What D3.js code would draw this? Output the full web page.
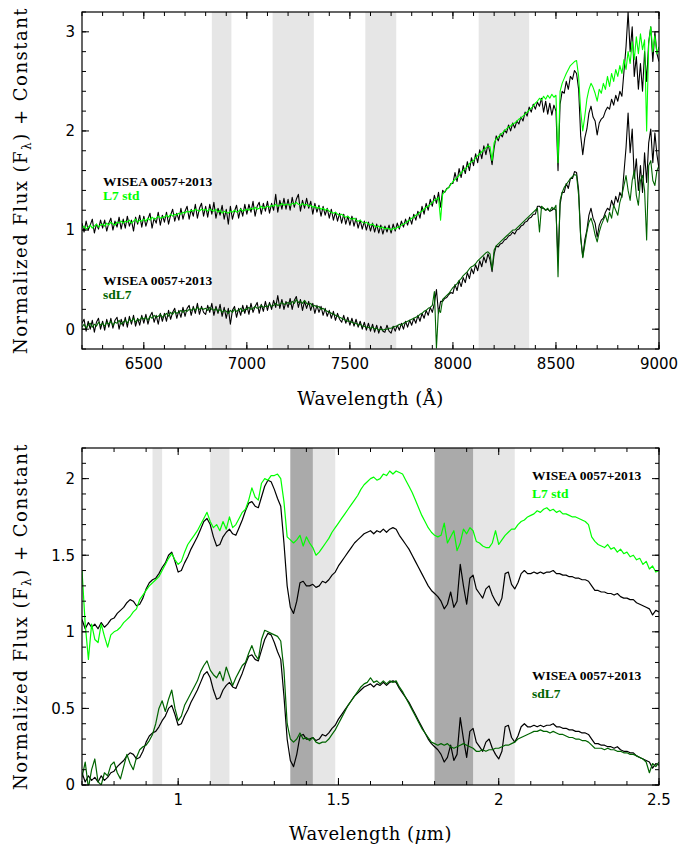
<!DOCTYPE html>
<html>
<head>
<meta charset="utf-8">
<script src="https://cdn.jsdelivr.net/npm/d3@7"></script>
<style>
  body { margin: 0; background: #fff; }
  .tick-label { font-family: 'DejaVu Sans', sans-serif; font-size: 15px; fill: #000; }
  .axis-title { font-family: 'DejaVu Serif', serif; font-size: 18px; fill: #000; }
  .legend { font-family: 'Liberation Serif', serif; font-weight: bold; font-size: 13.5px; }
</style>
</head>
<body>
<svg id="chart" width="678" height="847"></svg>
<script>
// ---- optical spectra (top), 10 A sampling from 6200 A, one row per 100 A ----
var optStart = 6200, optStep = 10;

// WISEA 0057+2013, as scaled against the L7 standard
var optWiseaL7 = [
  0.07,-0.02,0.09,0.00,0.05,0.11,-0.03,0.06,0.01,0.10,
  0.02,0.10,-0.01,0.07,0.12,0.00,0.09,0.03,0.13,0.01,
  0.11,0.02,0.14,0.04,0.10,-0.01,0.13,0.06,0.15,0.03,
  0.14,0.04,0.11,0.17,0.02,0.12,0.07,0.18,0.05,0.15,
  0.08,0.18,0.06,0.15,0.21,0.09,0.17,0.10,0.22,0.11,
  0.19,0.24,0.11,0.21,0.14,0.26,0.12,0.22,0.27,0.14,
  0.24,0.13,0.26,0.16,0.28,0.12,0.22,0.15,0.25,0.11,
  0.21,0.06,0.24,0.11,0.19,0.25,0.12,0.22,0.14,0.26,
  0.16,0.26,0.18,0.29,0.14,0.24,0.28,0.16,0.27,0.19,
  0.29,0.17,0.27,0.20,0.36,0.18,0.30,0.21,0.32,0.21,
  0.31,0.20,0.33,0.23,0.31,0.36,0.19,0.30,0.22,0.32,
  0.22,0.29,0.16,0.27,0.18,0.25,0.14,0.24,0.15,0.22,
  0.12,0.21,0.10,0.18,0.09,0.17,0.07,0.16,0.06,0.14,
  0.05,0.14,0.04,0.12,0.02,0.10,0.01,0.09,0.00,0.08,
  -0.01,0.07,-0.02,0.06,-0.03,0.05,-0.04,0.04,-0.02,0.05,
  -0.03,0.06,-0.01,0.07,0.01,0.09,0.03,0.11,0.05,0.13,
  0.06,0.16,0.10,0.19,0.12,0.24,0.16,0.27,0.20,0.31,
  0.24,0.35,0.27,0.38,0.23,0.40,0.38,0.42,0.43,0.47,
  0.47,0.58,0.49,0.62,0.53,0.65,0.57,0.69,0.60,0.73,
  0.65,0.77,0.68,0.81,0.72,0.85,0.76,0.87,0.78,0.66,
  0.83,0.95,0.90,0.97,0.94,1.01,0.98,1.06,1.00,1.08,
  1.03,1.10,1.07,1.14,1.10,1.19,1.15,1.24,1.19,1.27,
  1.22,1.29,1.25,1.33,1.19,1.30,1.17,1.28,1.16,1.26,
  1.20,0.60,1.27,1.40,1.38,1.50,1.42,1.55,1.52,1.61,
  1.58,1.42,0.95,0.76,0.93,1.02,1.18,1.25,1.14,1.10,
  0.96,1.08,1.12,1.14,1.20,1.24,1.22,1.32,1.26,1.36,
  1.30,1.40,1.35,1.60,1.85,2.20,1.80,2.05,1.55,1.75,
  1.42,1.68,1.40,1.80,1.50,1.90,2.05,1.70,2.00,1.78,
  1.70
];

// L7 standard
var optL7 = [
  0.02,0.04,0.01,0.03,0.05,0.02,0.04,0.06,0.03,0.05,
  0.06,0.04,0.07,0.05,0.08,0.06,0.05,0.08,0.07,0.09,
  0.07,0.09,0.08,0.10,0.07,0.09,0.11,0.08,0.10,0.09,
  0.11,0.09,0.12,0.10,0.13,0.11,0.12,0.14,0.12,0.13,
  0.13,0.15,0.13,0.16,0.14,0.16,0.15,0.17,0.16,0.18,
  0.17,0.19,0.18,0.20,0.19,0.21,0.20,0.19,0.21,0.20,
  0.21,0.19,0.21,0.20,0.19,0.21,0.18,0.20,0.17,0.19,
  0.18,0.17,0.19,0.18,0.20,0.18,0.19,0.21,0.19,0.20,
  0.21,0.20,0.22,0.21,0.23,0.21,0.22,0.24,0.22,0.23,
  0.24,0.23,0.25,0.24,0.26,0.24,0.25,0.27,0.25,0.26,
  0.26,0.25,0.27,0.26,0.28,0.26,0.25,0.27,0.25,0.26,
  0.24,0.25,0.23,0.24,0.22,0.23,0.21,0.22,0.20,0.21,
  0.19,0.18,0.17,0.18,0.16,0.15,0.16,0.14,0.13,0.14,
  0.12,0.11,0.12,0.10,0.09,0.10,0.08,0.07,0.08,0.06,
  0.05,0.06,0.04,0.03,0.04,0.02,0.03,0.01,0.02,0.01,
  0.00,0.02,0.01,0.03,0.03,0.05,0.06,0.07,0.09,0.10,
  0.12,0.13,0.15,0.16,0.18,0.19,0.21,0.23,0.24,0.26,
  0.28,0.30,0.31,0.33,0.10,0.36,0.39,0.41,0.43,0.46,
  0.49,0.51,0.53,0.55,0.58,0.60,0.62,0.64,0.67,0.69,
  0.70,0.73,0.75,0.77,0.79,0.81,0.83,0.85,0.84,0.70,
  0.88,0.92,0.94,0.96,0.98,1.00,1.02,1.04,1.05,1.07,
  1.08,1.10,1.12,1.13,1.15,1.17,1.19,1.21,1.23,1.25,
  1.28,1.30,1.33,1.31,1.35,1.32,1.36,1.33,1.37,1.34,
  1.36,0.68,1.40,1.48,1.53,1.58,1.62,1.66,1.68,1.70,
  1.71,1.55,1.20,1.00,1.15,1.32,1.42,1.48,1.44,1.38,
  1.30,1.42,1.38,1.48,1.42,1.55,1.45,1.58,1.50,1.62,
  1.55,1.66,1.58,1.72,1.62,1.80,1.68,1.90,1.72,1.95,
  1.78,1.98,1.82,1.92,1.00,1.88,2.05,1.80,1.96,1.78,
  1.85
];

// WISEA 0057+2013, as scaled against the sdL7
var optWiseaSd = [
  0.06,0.10,-0.02,0.08,0.00,0.09,-0.03,0.07,0.11,0.00,
  0.08,-0.01,0.10,0.02,0.11,0.01,0.09,0.12,0.00,0.10,
  0.03,0.12,0.02,0.13,0.05,0.14,0.03,0.11,0.04,0.14,
  0.06,0.15,0.05,0.13,0.17,0.07,0.14,0.05,0.16,0.08,
  0.16,0.08,0.19,0.10,0.17,0.21,0.11,0.19,0.12,0.22,
  0.13,0.21,0.24,0.14,0.23,0.16,0.26,0.15,0.23,0.17,
  0.15,0.24,0.17,0.26,0.14,0.23,0.16,0.25,0.13,0.22,
  0.11,0.21,0.05,0.19,0.23,0.12,0.21,0.14,0.24,0.16,
  0.24,0.15,0.26,0.17,0.23,0.27,0.16,0.25,0.18,0.28,
  0.19,0.27,0.20,0.29,0.22,0.34,0.21,0.30,0.20,0.28,
  0.22,0.31,0.20,0.29,0.33,0.22,0.30,0.19,0.28,0.21,
  0.28,0.19,0.26,0.16,0.24,0.17,0.23,0.14,0.21,0.13,
  0.19,0.11,0.18,0.09,0.16,0.10,0.07,0.14,0.06,0.12,
  0.04,0.11,0.03,0.10,0.02,0.08,0.00,0.07,-0.01,0.06,
  -0.02,0.05,-0.03,0.04,-0.04,0.03,-0.02,-0.03,0.04,-0.02,
  -0.04,0.03,-0.02,0.04,-0.01,0.06,0.00,0.08,0.02,0.09,
  0.04,0.11,0.06,0.14,0.08,0.16,0.11,0.19,0.14,0.22,
  0.17,0.26,0.40,0.16,0.28,0.28,0.31,0.32,0.35,0.37,
  0.36,0.45,0.39,0.49,0.43,0.52,0.47,0.57,0.51,0.61,
  0.56,0.65,0.59,0.69,0.63,0.73,0.67,0.76,0.70,0.58,
  0.76,0.84,0.83,0.86,0.87,0.90,0.91,0.94,0.95,0.98,
  0.96,1.00,1.01,1.04,1.05,1.08,1.09,1.12,1.13,1.16,
  1.16,1.24,1.24,1.22,1.22,1.20,1.21,1.19,1.20,1.22,
  1.20,0.70,1.26,1.38,1.38,1.47,1.42,1.52,1.52,1.59,
  1.58,1.40,0.93,0.73,0.90,1.00,1.15,1.22,1.12,1.07,
  0.93,1.05,1.10,1.12,1.18,1.22,1.20,1.30,1.24,1.34,
  1.28,1.38,1.33,1.58,1.83,2.18,1.78,2.02,1.52,1.72,
  1.40,1.65,1.38,1.78,1.48,1.88,2.02,1.68,1.98,1.76,
  1.62
];

// sdL7 standard
var optSd = [
  0.02,0.05,0.01,0.04,0.06,0.02,0.05,0.03,0.07,0.04,
  0.06,0.03,0.07,0.05,0.08,0.04,0.07,0.06,0.09,0.05,
  0.07,0.09,0.06,0.10,0.08,0.11,0.07,0.10,0.09,0.12,
  0.10,0.12,0.09,0.13,0.11,0.14,0.12,0.13,0.15,0.12,
  0.14,0.16,0.13,0.17,0.15,0.18,0.16,0.17,0.19,0.17,
  0.19,0.18,0.20,0.19,0.21,0.19,0.22,0.20,0.21,0.20,
  0.21,0.19,0.22,0.20,0.19,0.21,0.18,0.20,0.17,0.19,
  0.18,0.16,0.19,0.17,0.20,0.18,0.19,0.21,0.18,0.20,
  0.20,0.22,0.20,0.21,0.23,0.21,0.22,0.24,0.22,0.23,
  0.23,0.25,0.23,0.24,0.26,0.24,0.25,0.27,0.25,0.26,
  0.27,0.25,0.28,0.26,0.30,0.27,0.28,0.26,0.29,0.26,
  0.25,0.26,0.23,0.24,0.22,0.23,0.20,0.21,0.19,0.18,
  0.17,0.16,0.15,0.14,0.13,0.12,0.11,0.10,0.09,0.08,
  0.08,0.07,0.06,0.06,0.04,0.05,0.03,0.03,0.02,0.02,
  0.01,0.02,0.00,0.01,-0.01,0.00,-0.01,0.00,0.00,0.01,
  0.01,0.02,0.03,0.03,0.05,0.04,0.06,0.07,0.08,0.09,
  0.10,0.11,0.12,0.13,0.15,0.16,0.18,0.19,0.21,0.22,
  0.24,0.38,-0.19,0.20,0.17,0.30,0.32,0.34,0.36,0.39,
  0.42,0.44,0.46,0.49,0.51,0.54,0.56,0.58,0.61,0.63,
  0.64,0.66,0.69,0.71,0.73,0.75,0.77,0.78,0.76,0.60,
  0.80,0.84,0.86,0.88,0.90,0.92,0.94,0.96,0.98,1.00,
  1.00,1.02,1.04,1.06,1.08,1.10,1.12,1.14,1.16,1.18,
  1.20,1.22,0.98,1.24,1.22,1.20,1.22,1.19,1.23,1.21,
  1.25,0.53,1.30,1.38,1.43,1.46,1.49,1.52,1.54,1.56,
  1.55,1.35,0.92,0.72,0.85,0.98,1.08,1.12,1.05,0.95,
  0.88,0.98,1.05,1.10,1.15,1.08,1.18,1.12,1.25,1.20,
  1.15,1.28,1.35,1.45,1.55,1.40,1.30,1.50,1.60,1.35,
  1.25,1.50,1.55,1.40,0.90,1.65,1.70,1.50,1.45,1.60,
  1.65
];

// ---- near-infrared spectra (bottom), 0.01 um sampling from 0.70 um ----
var nirStart = 0.70, nirStep = 0.01;

var nirWisea = [
  0.08,0.02,0.06,0.03,0.05,0.02,0.06,0.03,0.05,0.08,
  0.09,0.12,0.14,0.16,0.19,0.21,0.20,0.17,0.18,0.22,
  0.28,0.32,0.34,0.35,0.38,0.42,0.45,0.50,0.52,0.46,
  0.39,0.40,0.45,0.49,0.54,0.58,0.62,0.67,0.72,0.74,
  0.70,0.62,0.56,0.57,0.62,0.65,0.67,0.64,0.63,0.68,
  0.73,0.79,0.84,0.85,0.82,0.81,0.88,0.95,0.99,0.98,
  0.93,0.87,0.82,0.58,0.30,0.16,0.12,0.20,0.32,0.33,
  0.30,0.30,0.31,0.29,0.30,0.33,0.32,0.34,0.37,0.39,
  0.43,0.46,0.49,0.52,0.55,0.58,0.60,0.62,0.64,0.65,
  0.66,0.64,0.66,0.65,0.67,0.65,0.67,0.68,0.67,0.63,
  0.60,0.57,0.54,0.50,0.46,0.42,0.38,0.34,0.30,0.27,
  0.25,0.23,0.20,0.15,0.18,0.26,0.16,0.20,0.44,0.30,
  0.18,0.35,0.37,0.28,0.25,0.22,0.28,0.30,0.24,0.20,
  0.17,0.22,0.38,0.39,0.31,0.28,0.32,0.38,0.40,0.38,
  0.38,0.39,0.38,0.39,0.38,0.39,0.39,0.40,0.38,0.38,
  0.37,0.37,0.36,0.36,0.35,0.35,0.34,0.34,0.33,0.30,
  0.27,0.27,0.26,0.26,0.25,0.25,0.24,0.25,0.23,0.22,
  0.22,0.21,0.21,0.19,0.18,0.17,0.16,0.15,0.11,0.14,
  0.13
];

var nirL7 = [
  0.40,0.05,-0.18,0.05,-0.05,-0.07,0.05,-0.03,-0.10,-0.02,
  0.00,0.01,0.03,0.06,0.08,0.10,0.13,0.15,0.21,0.24,
  0.27,0.30,0.32,0.34,0.36,0.40,0.44,0.48,0.51,0.47,
  0.44,0.46,0.52,0.57,0.60,0.63,0.66,0.70,0.74,0.78,
  0.72,0.68,0.70,0.66,0.72,0.67,0.75,0.68,0.70,0.74,
  0.78,0.80,0.86,0.94,0.88,0.86,0.97,1.00,0.99,1.02,
  1.02,1.03,1.00,0.85,0.62,0.60,0.58,0.60,0.63,0.56,
  0.62,0.58,0.55,0.50,0.52,0.55,0.58,0.61,0.65,0.68,
  0.71,0.74,0.77,0.80,0.83,0.86,0.89,0.93,0.96,0.98,
  1.00,1.01,0.99,1.00,1.03,1.02,1.05,1.03,1.05,1.04,
  1.03,0.99,0.95,0.91,0.86,0.81,0.76,0.72,0.68,0.65,
  0.63,0.62,0.63,0.71,0.58,0.62,0.66,0.53,0.58,0.67,
  0.64,0.68,0.66,0.59,0.58,0.56,0.55,0.55,0.58,0.66,
  0.57,0.60,0.63,0.65,0.67,0.67,0.70,0.72,0.73,0.75,
  0.76,0.77,0.79,0.78,0.80,0.81,0.79,0.80,0.78,0.79,
  0.77,0.77,0.76,0.75,0.75,0.74,0.73,0.72,0.70,0.62,
  0.59,0.57,0.56,0.55,0.57,0.54,0.55,0.52,0.54,0.51,
  0.52,0.49,0.50,0.47,0.48,0.44,0.46,0.41,0.43,0.39,
  0.40
];

var nirSd = [
  0.05,0.15,-0.02,0.10,0.17,0.02,0.00,0.08,0.06,0.13,
  0.15,0.08,0.04,0.12,0.20,0.14,0.10,0.18,0.23,0.25,
  0.26,0.29,0.33,0.40,0.50,0.55,0.48,0.56,0.62,0.50,
  0.42,0.45,0.52,0.56,0.60,0.64,0.68,0.74,0.78,0.81,
  0.75,0.72,0.70,0.74,0.68,0.77,0.71,0.65,0.70,0.74,
  0.78,0.80,0.86,0.91,0.85,0.82,0.95,1.01,1.00,0.99,
  0.98,0.97,0.94,0.75,0.40,0.30,0.28,0.30,0.34,0.30,
  0.31,0.29,0.31,0.28,0.27,0.28,0.28,0.30,0.33,0.36,
  0.40,0.44,0.48,0.52,0.55,0.58,0.61,0.64,0.66,0.67,
  0.70,0.67,0.68,0.66,0.68,0.66,0.68,0.67,0.68,0.64,
  0.61,0.57,0.53,0.49,0.45,0.41,0.37,0.34,0.31,0.28,
  0.27,0.26,0.27,0.26,0.27,0.25,0.24,0.25,0.26,0.27,
  0.26,0.25,0.24,0.22,0.22,0.23,0.22,0.23,0.23,0.24,
  0.24,0.25,0.26,0.26,0.27,0.28,0.30,0.31,0.32,0.33,
  0.34,0.35,0.35,0.36,0.35,0.35,0.34,0.35,0.34,0.33,
  0.33,0.32,0.31,0.31,0.30,0.30,0.29,0.29,0.28,0.26,
  0.24,0.24,0.24,0.23,0.24,0.23,0.23,0.22,0.22,0.21,
  0.21,0.20,0.20,0.19,0.18,0.17,0.15,0.08,0.14,0.12,
  0.15
];

// shaded telluric regions
var optBands = [[6830, 6925], [7125, 7325], [7575, 7725], [8125, 8370]];
var nirLightBands = [[0.92, 0.95], [1.10, 1.16], [1.35, 1.49], [1.80, 2.05]];
var nirDarkBands = [[1.35, 1.42], [1.80, 1.92]];

// tick labels
var optXTicks = [6500, 7000, 7500, 8000, 8500, 9000];
var optYTicks = [0, 1, 2, 3];
var nirXTicks = [1, 1.5, 2, 2.5];
var nirYTicks = [0, 0.5, 1, 1.5, 2];

var offset = 1;   // constant added to the upper pair

var colors = {black: '#000', bright: '#00ff00', dark: '#006400', light: '#e6e6e6', shade: '#aaaaaa'};

var svg = d3.select('#chart');
var left = 82, right = 659;

function pairs(values, start, step) {
    return values.map(function(v, i) { return [start + i * step, v]; });
}

function drawPanel(cfg) {
    var x = d3.scaleLinear().domain(cfg.xDomain).range([left, right]);
    var y = d3.scaleLinear().domain(cfg.yDomain).range([cfg.bottom, cfg.top]);
    var g = svg.append('g');

    var clipId = 'clip' + cfg.name;
    g.append('clipPath').attr('id', clipId)
        .append('rect')
        .attr('x', left).attr('y', cfg.top)
        .attr('width', right - left).attr('height', cfg.bottom - cfg.top);

    // shaded bands
    cfg.bands.forEach(function(b) {
        g.selectAll(null).data(b.list).enter().append('rect')
            .attr('x', function(d) { return x(d[0]); })
            .attr('y', cfg.top)
            .attr('width', function(d) { return x(d[1]) - x(d[0]); })
            .attr('height', cfg.bottom - cfg.top)
            .attr('fill', b.color);
    });

    // spectra
    var line = d3.line()
        .x(function(d) { return x(d[0]); })
        .y(function(d) { return y(d[1]); });

    var plot = g.append('g').attr('clip-path', 'url(#' + clipId + ')');
    cfg.series.forEach(function(s) {
        var pts = pairs(s.values, cfg.start, cfg.step).map(function(p) { return [p[0], p[1] + s.shift]; });
        plot.append('path')
            .datum(pts)
            .attr('d', line)
            .attr('fill', 'none')
            .attr('stroke', s.color)
            .attr('stroke-width', cfg.lineWidth)
            .attr('stroke-linejoin', 'round');
    });

    // frame
    g.append('rect')
        .attr('x', left).attr('y', cfg.top)
        .attr('width', right - left).attr('height', cfg.bottom - cfg.top)
        .attr('fill', 'none').attr('stroke', '#000').attr('stroke-width', 1.2);

    // ticks on all four sides, pointing inward
    var ticks = g.append('g').attr('stroke', '#000').attr('stroke-width', 1);
    var major = 7, minor = 4;
    function xTick(v, len) {
        ticks.append('line').attr('x1', x(v)).attr('x2', x(v)).attr('y1', cfg.bottom).attr('y2', cfg.bottom - len);
        ticks.append('line').attr('x1', x(v)).attr('x2', x(v)).attr('y1', cfg.top).attr('y2', cfg.top + len);
    }
    function yTick(v, len) {
        ticks.append('line').attr('y1', y(v)).attr('y2', y(v)).attr('x1', left).attr('x2', left + len);
        ticks.append('line').attr('y1', y(v)).attr('y2', y(v)).attr('x1', right).attr('x2', right - len);
    }
    x.ticks(cfg.xMinorCount).forEach(function(v) { xTick(v, minor); });
    y.ticks(cfg.yMinorCount).forEach(function(v) { yTick(v, minor); });
    cfg.xTicks.forEach(function(v) { xTick(v, major); });
    cfg.yTicks.forEach(function(v) { yTick(v, major); });

    g.selectAll(null).data(cfg.xTicks).enter().append('text')
        .attr('class', 'tick-label')
        .attr('x', function(d) { return x(d); })
        .attr('y', cfg.bottom + 20)
        .attr('text-anchor', 'middle')
        .text(function(d) { return d; });

    g.selectAll(null).data(cfg.yTicks).enter().append('text')
        .attr('class', 'tick-label')
        .attr('x', left - 7)
        .attr('y', function(d) { return y(d); })
        .attr('dy', '0.36em')
        .attr('text-anchor', 'end')
        .text(function(d) { return d; });

    // y title
    var yt = g.append('text')
        .attr('class', 'axis-title')
        .attr('text-anchor', 'middle')
        .attr('letter-spacing', '1.5px')
        .attr('transform', 'translate(27,' + ((cfg.top + cfg.bottom) / 2) + ') rotate(-90)');
    yt.append('tspan').text('Normalized Flux (F');
    yt.append('tspan').attr('font-size', '12px').attr('dy', 4).text('λ');
    yt.append('tspan').attr('dy', -4).text(') + Constant');

    // x title
    var xt = g.append('text')
        .attr('class', 'axis-title')
        .attr('x', (left + right) / 2)
        .attr('y', cfg.xTitleY)
        .attr('text-anchor', 'middle')
        .attr('letter-spacing', '0.5px');
    xt.append('tspan').text('Wavelength (');
    xt.append('tspan').attr('font-style', cfg.unitItalic ? 'italic' : null).text(cfg.unit);
    xt.append('tspan').text(cfg.unitRest + ')');

    // legends
    cfg.legends.forEach(function(l) {
        g.append('text').attr('class', 'legend')
            .attr('x', l.x).attr('y', l.y)
            .attr('fill', colors.black)
            .text('WISEA 0057+2013');
        g.append('text').attr('class', 'legend')
            .attr('x', l.x).attr('y', l.y + l.gap)
            .attr('fill', l.color)
            .text(l.label);
    });
}

drawPanel({
    name: 'opt',
    top: 12, bottom: 349,
    xDomain: [6200, 9000], yDomain: [-0.2, 3.2],
    xTicks: optXTicks, yTicks: optYTicks,
    xMinorCount: 28, yMinorCount: 17,
    start: optStart, step: optStep,
    lineWidth: 1.1,
    bands: [{list: optBands, color: colors.light}],
    series: [
        {values: optWiseaL7, shift: offset, color: colors.black},
        {values: optL7, shift: offset, color: colors.bright},
        {values: optWiseaSd, shift: 0, color: colors.black},
        {values: optSd, shift: 0, color: colors.dark}
    ],
    xTitleY: 405, unit: 'Å', unitRest: '', unitItalic: false,
    legends: [
        {x: 103, y: 186, gap: 14, label: 'L7 std', color: colors.bright},
        {x: 103, y: 284.5, gap: 14.5, label: 'sdL7', color: colors.dark}
    ]
});

drawPanel({
    name: 'nir',
    top: 448, bottom: 785,
    xDomain: [0.7, 2.5], yDomain: [0, 2.2],
    xTicks: nirXTicks, yTicks: nirYTicks,
    xMinorCount: 18, yMinorCount: 22,
    start: nirStart, step: nirStep,
    lineWidth: 1.2,
    bands: [{list: nirLightBands, color: colors.light}, {list: nirDarkBands, color: colors.shade}],
    series: [
        {values: nirWisea, shift: offset, color: colors.black},
        {values: nirL7, shift: offset, color: colors.bright},
        {values: nirWisea, shift: 0, color: colors.black},
        {values: nirSd, shift: 0, color: colors.dark}
    ],
    xTitleY: 840, unit: 'μ', unitRest: 'm', unitItalic: true,
    legends: [
        {x: 532, y: 480, gap: 18, label: 'L7 std', color: colors.bright},
        {x: 532, y: 679.5, gap: 18, label: 'sdL7', color: colors.dark}
    ]
});
</script>
</body>
</html>
